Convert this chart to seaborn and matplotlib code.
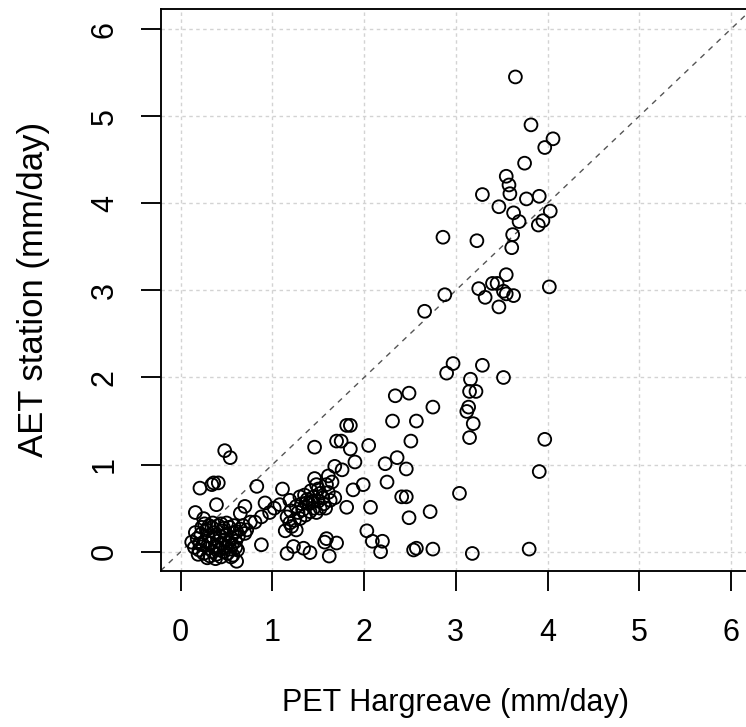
import pandas as pd
import seaborn as sns
import matplotlib.pyplot as plt

# PET (Hargreave) vs AET (station), mm/day
# high values (mostly summer days)
pet_high = [3.65, 3.82, 4.06, 3.97, 3.75, 3.55, 3.58, 3.59, 3.29, 3.77, 3.91,
            3.47, 3.63, 4.03, 3.69, 3.90, 3.95, 3.62, 3.61, 2.86, 3.23, 3.55,
            3.40, 3.45, 3.25, 3.52, 3.55, 3.63, 3.32, 3.47, 4.02, 2.88, 2.66]
aet_high = [5.45, 4.90, 4.74, 4.64, 4.46, 4.31, 4.21, 4.11, 4.10, 4.05, 4.08,
            3.96, 3.89, 3.91, 3.79, 3.75, 3.80, 3.64, 3.49, 3.61, 3.57, 3.18,
            3.08, 3.08, 3.02, 2.99, 2.96, 2.94, 2.92, 2.81, 3.04, 2.95, 2.76]

pet_mid = [2.97, 2.90, 3.29, 3.52, 3.16, 3.15, 3.22, 2.75, 3.14, 3.12, 3.19,
           3.15, 3.97, 3.91, 3.04, 2.72, 2.75, 3.18, 3.80,
           2.34, 2.49, 2.31, 2.57, 2.51, 2.05, 2.23, 2.36, 2.46, 2.25, 2.41,
           2.46, 2.49, 2.07, 1.81, 2.03, 2.09, 2.20, 2.18, 2.54, 2.57]
aet_mid = [2.16, 2.05, 2.14, 2.00, 1.98, 1.84, 1.84, 1.66, 1.66, 1.61, 1.47,
           1.31, 1.29, 0.92, 0.67, 0.46, 0.03, -0.02, 0.03,
           1.79, 1.82, 1.50, 1.50, 1.27, 1.22, 1.01, 1.08, 0.95, 0.80, 0.63,
           0.63, 0.39, 0.51, 0.51, 0.24, 0.12, 0.12, 0.00, 0.02, 0.04]

pet_low = [1.46, 1.81, 1.85, 1.70, 1.75, 1.85, 1.90, 1.68, 1.76, 1.61, 1.46,
           0.83, 1.11, 1.88, 1.99, 0.92, 0.88, 0.88, 1.16, 1.23, 1.34, 1.41,
           1.59, 1.57, 1.70, 1.62, 1.14, 1.26, 1.19, 0.81, 0.97, 1.02,
           1.45, 1.52, 1.59, 1.65, 1.48, 1.30, 1.37, 1.19, 1.26, 1.16, 1.30,
           1.41, 1.52, 1.63, 1.21, 1.08, 1.40, 1.45, 1.35, 1.50, 1.42, 1.55,
           1.33, 1.38, 1.48, 1.56, 1.28, 1.24, 1.61, 1.44, 1.36, 1.50, 1.58,
           1.32, 1.68, 1.20]
aet_low = [1.20, 1.45, 1.45, 1.27, 1.27, 1.18, 1.03, 0.98, 0.94, 0.87, 0.84,
           0.75, 0.72, 0.71, 0.77, 0.56, 0.40, 0.08, -0.02, 0.06, 0.04, -0.01,
           0.15, 0.11, 0.10, -0.05, 0.24, 0.25, 0.33, 0.34, 0.45, 0.50,
           0.63, 0.67, 0.77, 0.80, 0.77, 0.63, 0.56, 0.59, 0.52, 0.40, 0.38,
           0.46, 0.50, 0.59, 0.29, 0.54, 0.55, 0.50, 0.65, 0.58, 0.70, 0.62,
           0.48, 0.60, 0.45, 0.55, 0.45, 0.36, 0.68, 0.58, 0.42, 0.72, 0.50,
           0.55, 0.62, 0.47]

# winter days, near zero
pet_winter = [0.48, 0.54, 0.36, 0.41, 0.34, 0.21, 0.16, 0.39, 0.70, 0.65, 0.76,
              0.25, 0.61, 0.61, 0.70,
              0.12, 0.15, 0.18, 0.20, 0.22, 0.24, 0.25, 0.27, 0.28, 0.30, 0.30,
              0.32, 0.33, 0.34, 0.35, 0.36, 0.37, 0.38, 0.39, 0.40, 0.41, 0.42,
              0.43, 0.44, 0.45, 0.46, 0.47, 0.48, 0.49, 0.50, 0.51, 0.52, 0.53,
              0.54, 0.55, 0.56, 0.57, 0.58, 0.60, 0.62, 0.63, 0.65, 0.19, 0.23,
              0.26, 0.29, 0.31, 0.35, 0.38, 0.44, 0.50, 0.58, 0.16, 0.21, 0.40,
              0.47, 0.55, 0.60, 0.68, 0.72]
aet_winter = [1.16, 1.08, 0.79, 0.79, 0.77, 0.73, 0.45, 0.54, 0.52, 0.44, 0.34,
              0.38, -0.11, 0.23, 0.21,
              0.11, 0.05, 0.15, 0.02, 0.20, 0.08, -0.02, 0.12, 0.25, 0.04, 0.18,
              -0.05, 0.10, 0.28, 0.00, 0.15, 0.22, 0.06, -0.03, 0.12, 0.30, 0.02,
              0.18, -0.06, 0.09, 0.24, 0.00, 0.14, 0.05, 0.20, -0.02, 0.10, 0.28,
              0.03, 0.16, 0.08, -0.04, 0.22, 0.12, 0.02, 0.18, 0.26, -0.03, 0.28,
              0.32, -0.07, 0.30, 0.33, -0.08, 0.32, 0.33, 0.30, 0.22, 0.09, 0.05,
              0.27, -0.06, 0.05, 0.30, 0.25]

ticks = [0, 1, 2, 3, 4, 5, 6]

df = pd.DataFrame({
    "pet": pet_high + pet_mid + pet_low + pet_winter,
    "aet": aet_high + aet_mid + aet_low + aet_winter,
})

sns.set_style("ticks")
plt.rcParams['font.family'] = ['Liberation Sans', 'DejaVu Sans']

W, H = 746, 727
fig = plt.figure(figsize=(W / 100, H / 100), dpi=100)
# plot region; right side runs past the image edge like the original crop
ax = fig.add_axes([160.7 / W, 156.3 / H, 590.2 / W, 561.7 / H])

ax.set_xlim(-0.218, 6.218)
ax.set_ylim(-0.218, 6.23)
ax.set_xticks(ticks)
ax.set_yticks(ticks)
ax.set_axisbelow(True)
ax.grid(True, color='#d3d3d3', linestyle=(0, (2.5, 2.5)), linewidth=1.0)

ax.axline((0, 0), (1, 1), color='#555555', linewidth=1.0,
          linestyle=(0, (4, 4)), zorder=2)

sns.scatterplot(data=df, x="pet", y="aet", ax=ax, marker='o', s=85,
                facecolor='none', edgecolor='black', linewidth=1.35, zorder=3)

for s in ax.spines.values():
    s.set_linewidth(1.35)
    s.set_color('black')
ax.spines['right'].set_visible(False)

ax.tick_params(axis='both', direction='out', length=14.4, width=1.35,
               labelsize=22, colors='black', bottom=True, left=True)
ax.tick_params(axis='x', pad=20)
ax.tick_params(axis='y', pad=15, labelrotation=90)
for lab in ax.get_yticklabels():
    lab.set_va('center')

ax.set_xlabel("PET Hargreave (mm/day)", fontsize=22, color='black')
ax.set_ylabel("AET station (mm/day)", fontsize=25, color='black')
ax.xaxis.label.set_va('center')
ax.yaxis.label.set_va('center')
ax.xaxis.set_label_coords(0.5, -0.236)
ax.yaxis.set_label_coords(-0.215, 0.5)

fig.savefig("out.png", dpi=100)
